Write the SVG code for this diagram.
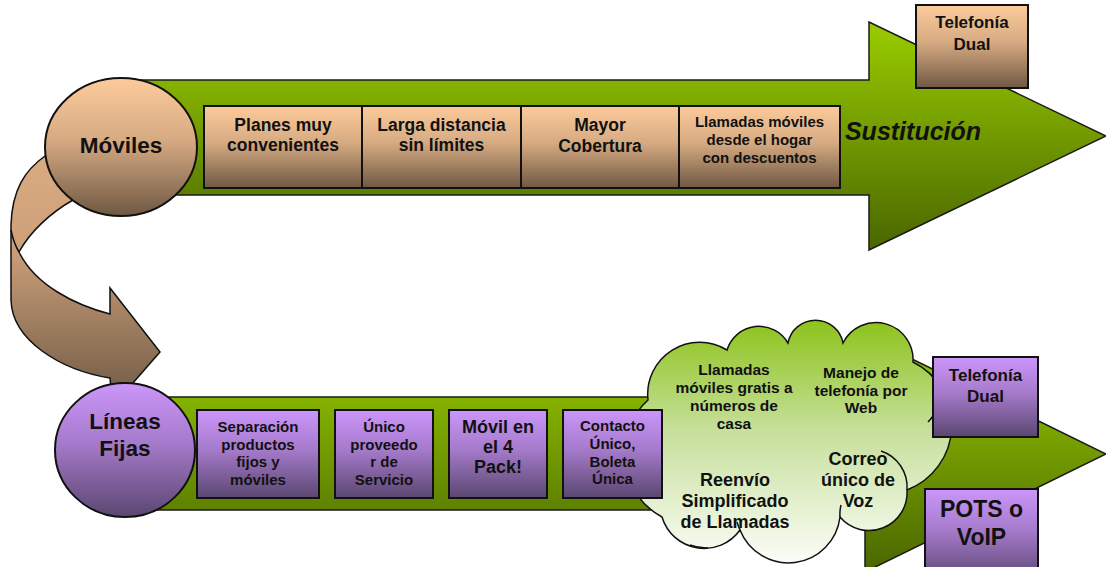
<svg xmlns="http://www.w3.org/2000/svg" width="1106" height="567" viewBox="0 0 1106 567">
<defs>
<linearGradient id="gGreen" x1="0" y1="0" x2="0" y2="1">
<stop offset="0" stop-color="#9ACD00"/><stop offset="1" stop-color="#4A6600"/>
</linearGradient>
<linearGradient id="gPeach" x1="0" y1="0" x2="0" y2="1">
<stop offset="0" stop-color="#FCCB9B"/><stop offset="0.45" stop-color="#D6AA82"/><stop offset="1" stop-color="#6F5843"/>
</linearGradient>
<linearGradient id="gPurple" x1="0" y1="0" x2="0" y2="1">
<stop offset="0" stop-color="#CB96FA"/><stop offset="0.45" stop-color="#A57ACB"/><stop offset="1" stop-color="#5A4770"/>
</linearGradient>
<linearGradient id="gCurve" gradientUnits="userSpaceOnUse" x1="0" y1="150" x2="0" y2="390">
<stop offset="0" stop-color="#D9AC82"/><stop offset="0.4" stop-color="#CDA07A"/><stop offset="1" stop-color="#776049"/>
</linearGradient>
<linearGradient id="gCloud" x1="0" y1="0" x2="0" y2="1">
<stop offset="0" stop-color="#8CC31A"/><stop offset="0.45" stop-color="#C6DF9A"/><stop offset="1" stop-color="#FBFDF8"/>
</linearGradient>
<style>
.arrow{fill:url(#gGreen);stroke:#1a1a1a;stroke-width:1.5}
.pbox{fill:url(#gPeach);stroke:#111;stroke-width:2}
.ubox{fill:url(#gPurple);stroke:#111;stroke-width:2}
.t{font-family:"Liberation Sans",Arial,sans-serif;font-weight:bold;fill:#111;text-anchor:middle}
.line{fill:none;stroke:#111;stroke-width:1.5}
</style>
</defs>

<g id="arrow-top">
<path class="arrow" d="M121,80 L869,80 L869,22 L1106,136 L869,250 L869,195 L121,195 Z"/>
<text class="t" x="913" y="140" font-size="25" font-style="italic">Sustitución</text>
</g>
<g id="arrow-bottom">
<path class="arrow" d="M125,397 L865,397 L865,336 L1106,454 L865,572 L865,510 L125,510 Z"/>
</g>

<g id="connectors">
<path d="M45,156 C25,170 12,190 11,225 L11,300 C12,340 60,370 110,378 L111,388 L132,384 L160,352 L110,288 L110,314 C75,305 35,285 19,252 C30,232 50,213 73,200 Z" fill="url(#gCurve)" stroke="#111" stroke-width="1.5"/>
<path class="line" d="M11,230 C13,240 16,247 19,252"/>
</g>

<g id="moviles">
<ellipse cx="121" cy="147" rx="76" ry="69" fill="url(#gPeach)" stroke="#111" stroke-width="2"/>
<text class="t" x="121" y="153" font-size="22.5">Móviles</text>
</g>
<g id="top-box-1">
<rect class="pbox" x="204" y="106" width="158" height="82"/>
<text class="t" x="283" y="131" font-size="17.5">Planes muy</text>
<text class="t" x="283" y="151" font-size="17.5">convenientes</text>
</g>
<g id="top-box-2">
<rect class="pbox" x="362" y="106" width="159" height="82"/>
<text class="t" x="441.5" y="131" font-size="17.5">Larga distancia</text>
<text class="t" x="441.5" y="151" font-size="17.5">sin límites</text>
</g>
<g id="top-box-3">
<rect class="pbox" x="521" y="106" width="158" height="82"/>
<text class="t" x="600" y="131" font-size="17.5">Mayor</text>
<text class="t" x="600" y="152" font-size="17.5">Cobertura</text>
</g>
<g id="top-box-4">
<rect class="pbox" x="679" y="106" width="161" height="82"/>
<text class="t" x="759.5" y="127" font-size="15">Llamadas móviles</text>
<text class="t" x="759.5" y="145" font-size="15">desde el hogar</text>
<text class="t" x="759.5" y="163" font-size="15">con descuentos</text>
</g>
<g id="telefonia-top">
<rect class="pbox" x="916" y="5" width="112" height="83"/>
<text class="t" x="972" y="28" font-size="17">Telefonía</text>
<text class="t" x="972" y="50" font-size="17">Dual</text>
</g>

<g id="cloud">
<path d="M648,400 A52,52 0 0 1 727,350 A33.5,33.5 0 0 1 788,343 A28,28 0 0 1 843,343 A37,37 0 0 1 913,362 A70,70 0 0 1 907,490 A38,38 0 0 1 840,517 A52,52 0 0 1 740,530 A44,44 0 0 1 662,517 A72,72 0 0 1 648,400 Z" fill="url(#gCloud)" stroke="#111" stroke-width="1.5"/>
<path class="line" d="M881,451 A38,38 0 0 1 907,490"/>
<path class="line" d="M840,517 A38,38 0 0 1 841,505"/>
<path class="line" d="M740,530 A52,52 0 0 1 737,522"/>
<path class="line" d="M690,545 A44,44 0 0 0 708,548"/>
<path class="line" d="M928,422 A70,70 0 0 0 933,416"/>
<text class="t" x="734" y="375" font-size="15.5">Llamadas</text>
<text class="t" x="734" y="393" font-size="15.5">móviles gratis a</text>
<text class="t" x="734" y="411" font-size="15.5">números de</text>
<text class="t" x="734" y="429" font-size="15.5">casa</text>
<text class="t" x="861" y="378" font-size="15.5">Manejo de</text>
<text class="t" x="861" y="396" font-size="15.5">telefonía por</text>
<text class="t" x="861" y="413" font-size="15.5">Web</text>
<text class="t" x="735" y="486" font-size="18">Reenvío</text>
<text class="t" x="735" y="507" font-size="18">Simplificado</text>
<text class="t" x="735" y="528" font-size="18">de Llamadas</text>
<text class="t" x="858" y="465" font-size="18">Correo</text>
<text class="t" x="858" y="486" font-size="18">único de</text>
<text class="t" x="858" y="507" font-size="18">Voz</text>
</g>

<g id="lineas-fijas">
<ellipse cx="125" cy="450" rx="70" ry="67" fill="url(#gPurple)" stroke="#111" stroke-width="2"/>
<text class="t" x="125" y="429" font-size="22.5">Líneas</text>
<text class="t" x="125" y="456" font-size="22.5">Fijas</text>
</g>
<g id="bottom-box-1">
<rect class="ubox" x="197" y="410" width="122" height="88"/>
<text class="t" x="258" y="432" font-size="15">Separación</text>
<text class="t" x="258" y="449.5" font-size="15">productos</text>
<text class="t" x="258" y="467" font-size="15">fijos y</text>
<text class="t" x="258" y="485" font-size="15">móviles</text>
</g>
<g id="bottom-box-2">
<rect class="ubox" x="335" y="410" width="98" height="88"/>
<text class="t" x="384" y="432" font-size="15">Único</text>
<text class="t" x="384" y="449.5" font-size="15">proveedo</text>
<text class="t" x="384" y="467" font-size="15">r de</text>
<text class="t" x="384" y="485" font-size="15">Servicio</text>
</g>
<g id="bottom-box-3">
<rect class="ubox" x="449" y="410" width="98" height="88"/>
<text class="t" x="498" y="433" font-size="18">Móvil en</text>
<text class="t" x="498" y="453" font-size="18">el 4</text>
<text class="t" x="498" y="473" font-size="18">Pack!</text>
</g>
<g id="bottom-box-4">
<rect class="ubox" x="563" y="410" width="99" height="88"/>
<text class="t" x="612.5" y="431" font-size="15">Contacto</text>
<text class="t" x="612.5" y="449" font-size="15">Único,</text>
<text class="t" x="612.5" y="467" font-size="15">Boleta</text>
<text class="t" x="612.5" y="484" font-size="15">Única</text>
</g>
<g id="telefonia-bottom">
<rect class="ubox" x="933" y="357" width="105" height="80"/>
<text class="t" x="985.5" y="381" font-size="17">Telefonía</text>
<text class="t" x="985.5" y="402" font-size="17">Dual</text>
</g>
<g id="pots-voip">
<rect class="ubox" x="925" y="489" width="113" height="92"/>
<text class="t" x="981.5" y="517" font-size="23">POTS o</text>
<text class="t" x="981.5" y="545" font-size="23">VoIP</text>
</g>
</svg>
